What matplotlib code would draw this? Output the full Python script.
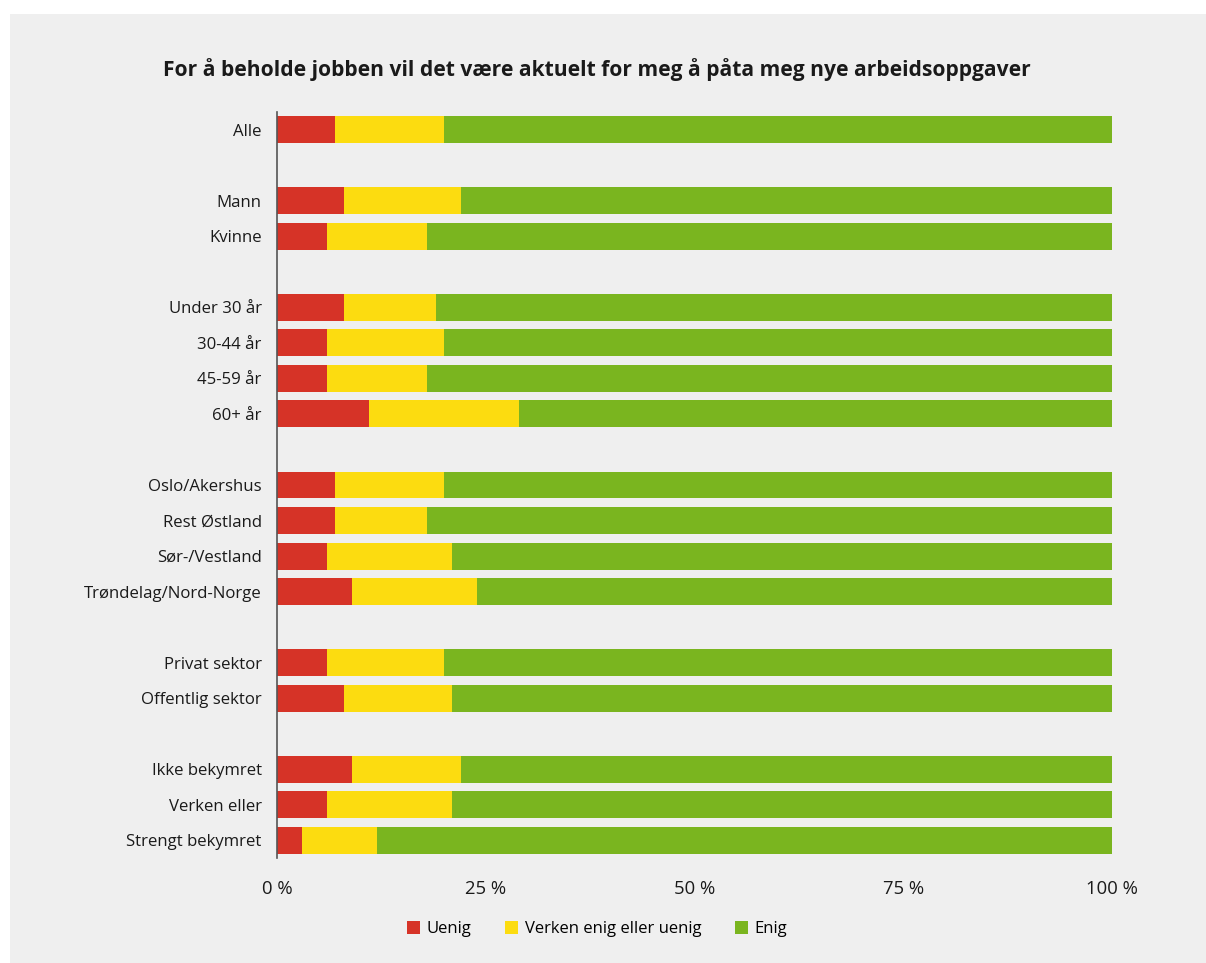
import matplotlib.pyplot as plt
from matplotlib.patches import Rectangle

plt.rcParams['font.family'] = ['Open Sans', 'DejaVu Sans']

# --- data ---
kategorier = ["Alle", "Mann", "Kvinne", "Under 30 år", "30-44 år", "45-59 år", "60+ år",
              "Oslo/Akershus", "Rest Østland", "Sør-/Vestland", "Trøndelag/Nord-Norge",
              "Privat sektor", "Offentlig sektor",
              "Ikke bekymret", "Verken eller", "Strengt bekymret"]
posisjon = [0, 2, 3, 5, 6, 7, 8, 10, 11, 12, 13, 15, 16, 18, 19, 20]
uenig = [7, 8, 6, 8, 6, 6, 11, 7, 7, 6, 9, 6, 8, 9, 6, 3]
verken = [13, 14, 12, 11, 14, 12, 18, 13, 11, 15, 15, 14, 13, 13, 15, 9]
enig = [80, 78, 82, 81, 80, 82, 71, 80, 82, 79, 76, 80, 79, 78, 79, 88]

serier = ["Uenig", "Verken enig eller uenig", "Enig"]
farger = ["#d63327", "#fcdc10", "#7ab51f"]
bg = "#efefef"

fig = plt.figure(figsize=(12.06, 9.63), dpi=100)
fig.patch.set_facecolor("white")
fig.add_artist(Rectangle((10 / 1206, 0), 1 - 10 / 1206, 1 - 14 / 963,
                         transform=fig.transFigure, facecolor=bg, edgecolor="none", zorder=0))

ax = fig.add_axes([277 / 1206, 1 - 858 / 963, (1112 - 277) / 1206, (858 - 112) / 963])
ax.set_facecolor(bg)

venstre = [0] * len(uenig)
for navn, verdier, farge in zip(serier, [uenig, verken, enig], farger):
    ax.barh(posisjon, verdier, left=venstre, height=0.76, color=farge, label=navn)
    venstre = [a + b for a, b in zip(venstre, verdier)]

ax.set_xlim(0, 100)
ax.set_ylim(20.5, -0.5)
ax.set_yticks(posisjon)
ax.set_yticklabels(kategorier, fontsize=12.1, color="#1a1a1a")
ax.set_xticks([0, 25, 50, 75, 100])
ax.set_xticklabels(["0 %", "25 %", "50 %", "75 %", "100 %"], fontsize=13.3, color="#1a1a1a")
ax.tick_params(axis="y", length=0, pad=11)
ax.tick_params(axis="x", length=0, pad=16)
for s in ["top", "right", "bottom"]:
    ax.spines[s].set_visible(False)
ax.spines["left"].set_color("#555555")
ax.spines["left"].set_linewidth(1.2)

fig.text(597 / 1206, 1 - 70 / 963,
         "For å beholde jobben vil det være aktuelt for meg å påta meg nye arbeidsoppgaver",
         ha="center", va="center", fontsize=15.1, fontweight="bold", color="#1a1a1a")

ax.legend(loc="center", bbox_to_anchor=(597 / 1206, 1 - 929 / 963),
          bbox_transform=fig.transFigure, ncol=3, frameon=False, fontsize=12,
          handlelength=0.8, handleheight=0.8, handletextpad=0.4, columnspacing=2.0)

fig.savefig("out.png", dpi=100, facecolor=fig.get_facecolor())
